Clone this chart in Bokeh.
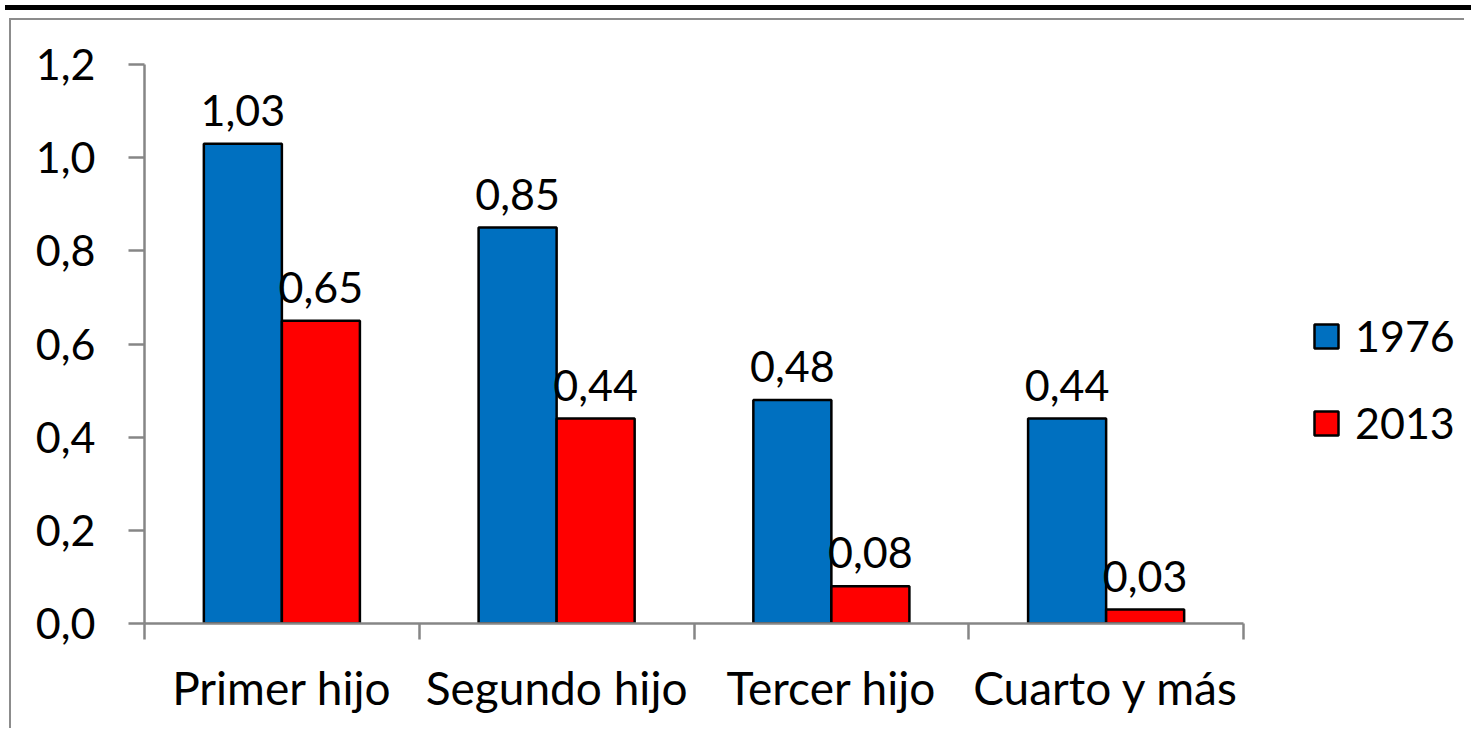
from bokeh.plotting import figure
from bokeh.models import (ColumnDataSource, Range1d, FixedTicker, CustomJSTickFormatter,
                          LabelSet, Legend, LegendItem, Div)
from bokeh.core.properties import value
from bokeh.transform import dodge
from bokeh.layouts import column
from bokeh.embed import file_html
from bokeh.resources import INLINE

categories = ["Primer hijo", "Segundo hijo", "Tercer hijo", "Cuarto y más"]
values_1976 = [1.03, 0.85, 0.48, 0.44]
values_2013 = [0.65, 0.44, 0.08, 0.03]
series_names = ["1976", "2013"]
y_ticks = [0.0, 0.2, 0.4, 0.6, 0.8, 1.0, 1.2]

FONT = "Lato"
FS = "43px"
FSX = "46px"
BLUE = "#0070C0"
RED = "#FF0000"
GREY = "#868686"

# layout constants (pixels)
W, H = 1455, 710
MB_L, MB_R, MB_T, MB_B = 133, 4, 44, 107
AXIS_SPAN_PX = 1099          # width occupied by the category axis
frame_w = W - MB_L - MB_R
n = len(categories)
x_end = n * frame_w / AXIS_SPAN_PX

xs = [i + 0.5 for i in range(n)]
fmt = lambda v: f"{v:.2f}".replace(".", ",")
src = ColumnDataSource(dict(
    x=xs, cat=categories,
    a=values_1976, b=values_2013,
    la=[fmt(v) for v in values_1976], lb=[fmt(v) for v in values_2013],
))

BW = 0.284
p = figure(width=W, height=H, output_backend="svg", toolbar_location=None,
           x_range=Range1d(0, x_end), y_range=Range1d(0, 1.2),
           min_border_left=MB_L, min_border_right=MB_R, min_border_top=MB_T, min_border_bottom=MB_B)
p.margin = (3, 0, 0, 9)
p.styles = {"border-left": "2px solid #8c8c8c", "border-top": "2px solid #8c8c8c"}
p.outline_line_color = None
p.grid.visible = False

r1 = p.vbar(x=dodge("x", -BW / 2, range=p.x_range), top="a", width=BW, source=src,
            fill_color=BLUE, line_color="black", line_width=2.5)
r2 = p.vbar(x=dodge("x", BW / 2, range=p.x_range), top="b", width=BW, source=src,
            fill_color=RED, line_color="black", line_width=2.5)

for col, lab, off in (("a", "la", -BW / 2), ("b", "lb", BW / 2)):
    p.add_layout(LabelSet(x=dodge("x", off, range=p.x_range), y=col, text=lab, source=src,
                          text_align="center", text_baseline="alphabetic", y_offset=18,
                          text_font=value(FONT), text_font_size=value(FS), text_color="black"))

# y axis
ya = p.yaxis[0]
ya.ticker = FixedTicker(ticks=y_ticks)
ya.formatter = CustomJSTickFormatter(code="return tick.toFixed(1).replace('.', ',');")
ya.axis_line_color = GREY
ya.axis_line_width = 2.5
ya.major_tick_line_color = GREY
ya.major_tick_line_width = 2.5
ya.major_tick_out = 16
ya.major_tick_in = 0
ya.minor_tick_line_color = None
ya.major_label_standoff = 33
ya.major_label_text_font = FONT
ya.major_label_text_font_size = FS
ya.major_label_text_color = "black"

# x axis: labels at centers, ticks at boundaries
xa = p.xaxis[0]
xa.bounds = (0, n)
xa.ticker = FixedTicker(ticks=xs, minor_ticks=list(range(n + 1)))
xa.formatter = CustomJSTickFormatter(args=dict(cats=categories),
                                     code="return cats[Math.floor(tick)];")
xa.axis_line_color = GREY
xa.axis_line_width = 2.5
xa.major_tick_line_color = None
xa.major_tick_out = 0
xa.major_tick_in = 0
xa.minor_tick_line_color = GREY
xa.minor_tick_line_width = 2.5
xa.minor_tick_out = 16
xa.minor_tick_in = 0
xa.major_label_standoff = 20
xa.major_label_text_font = FONT
xa.major_label_text_font_size = FSX
xa.major_label_text_color = "black"

legend = Legend(items=[LegendItem(label=series_names[0], renderers=[r1]),
                       LegendItem(label=series_names[1], renderers=[r2])],
                location=(1167, 172), padding=0, margin=0, spacing=30,
                glyph_width=30, glyph_height=30, label_height=57, label_standoff=14,
                label_text_font=FONT, label_text_font_size=FS, label_text_color="black",
                border_line_color=None, background_fill_alpha=0)
p.add_layout(legend)

bar = Div(width=1466, height=5, styles={"background-color": "black"})
layout = column(bar, p, spacing=0)

open("out.html", "w").write(file_html(layout, INLINE))
